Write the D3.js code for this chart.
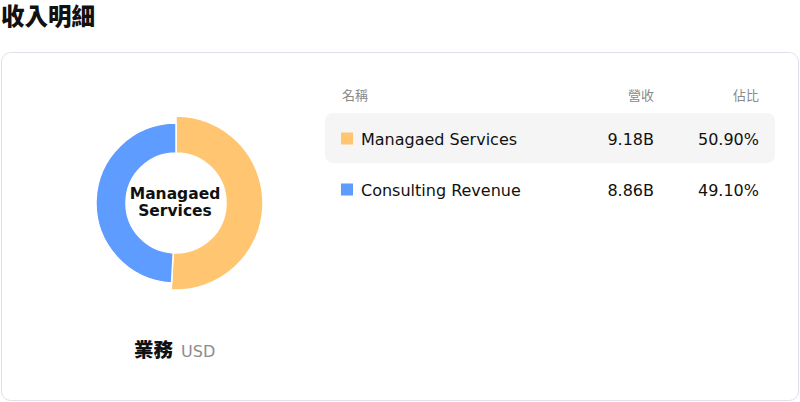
<!DOCTYPE html>
<html>
<head>
<meta charset="utf-8">
<script src="https://cdn.jsdelivr.net/npm/d3@7"></script>
<style>
  body { margin: 0; background: #fff; font-family: "DejaVu Sans", "Noto Sans CJK TC", sans-serif; }
  svg text { font-family: "DejaVu Sans", "Noto Sans CJK TC", sans-serif; }
</style>
</head>
<body>
<svg id="chart" width="800" height="402"></svg>
<script>
// data
const categories = ['Managaed Services', 'Consulting Revenue'];
const revenue = [9.18, 8.86];          // billions USD
const shareLabels = ['50.90%', '49.10%'];
const revenueLabels = ['9.18B', '8.86B'];
const palette = ['#ffc570', '#5f9cff'];

const width = 800, height = 402;
const svg = d3.select('#chart');

// title
svg.append('text')
    .attr('x', 1).attr('y', 25)
    .attr('font-size', 23.5).attr('font-weight', 900)
    .attr('font-family', '"Noto Sans CJK TC", sans-serif')
    .attr('fill', '#111')
    .text('收入明細');

// card
svg.append('rect')
    .attr('x', 1.5).attr('y', 52.5)
    .attr('width', 797).attr('height', 348)
    .attr('rx', 9)
    .attr('fill', '#fff')
    .attr('stroke', '#e1e0ea');

// donut
const cx = 176, cy = 203;
const inner = 50, outer = 80, hoverOuter = 87;
const data = categories.map((c, i) => ({ label: c, value: revenue[i] }));

const pie = d3.pie()
    .value(d => d.value)
    .sort(null);

const arc = d3.arc().innerRadius(inner);

const donut = svg.append('g')
    .attr('transform', `translate(${cx},${cy})`);

donut.selectAll('path')
    .data(pie(data))
    .enter()
    .append('path')
    .attr('d', (d, i) => arc.outerRadius(i === 0 ? hoverOuter : outer)(d))
    .attr('fill', (d, i) => palette[i])
    .attr('stroke', '#fff')
    .attr('stroke-width', 1.5);

// centre label (active slice), one text per line
categories[0].split(' ').forEach((w, i) => {
    donut.append('text')
        .attr('x', -1)
        .attr('y', i === 0 ? -4.5 : 12.5)
        .attr('text-anchor', 'middle')
        .attr('font-size', 15.5).attr('font-weight', 'bold')
        .attr('fill', '#111')
        .text(w);
});

// caption under donut
const caption = svg.append('text')
    .attr('x', 134).attr('y', 357);
caption.append('tspan')
    .attr('font-size', 19.5).attr('font-weight', 900)
    .attr('font-family', '"Noto Sans CJK TC", sans-serif')
    .attr('fill', '#111')
    .text('業務');
caption.append('tspan')
    .attr('dx', 8)
    .attr('font-size', 16)
    .attr('fill', '#8c8c8c')
    .text('USD');

// table
const colName = 342, colRev = 654, colShare = 759;
const header = svg.append('g').attr('font-size', 13).attr('fill', '#8a8a8a')
    .attr('font-family', '"Noto Sans CJK TC", sans-serif');
header.append('text').attr('x', colName).attr('y', 100).text('名稱');
header.append('text').attr('x', colRev).attr('y', 100).attr('text-anchor', 'end').text('營收');
header.append('text').attr('x', colShare).attr('y', 100).attr('text-anchor', 'end').text('佔比');

const rowY = d3.scaleBand()
    .domain(categories)
    .range([113, 215])
    .paddingInner(0);

const rows = svg.selectAll('g.row')
    .data(categories)
    .enter()
    .append('g')
    .attr('class', 'row')
    .attr('transform', d => `translate(0,${rowY(d)})`);

rows.filter((d, i) => i === 0)
    .append('rect')
    .attr('x', 325).attr('y', 0)
    .attr('width', 450).attr('height', 50)
    .attr('rx', 8)
    .attr('fill', '#f5f5f5');

const mid = rowY.bandwidth() / 2 + 0.5;

rows.append('rect')
    .attr('x', 341).attr('y', mid - 6.5)
    .attr('width', 12).attr('height', 12)
    .attr('fill', (d, i) => palette[i]);

rows.append('text')
    .attr('x', 361).attr('y', mid)
    .attr('dy', '0.35em')
    .attr('font-size', 16).attr('fill', '#111')
    .text(d => d);

rows.append('text')
    .attr('x', colRev).attr('y', mid)
    .attr('dy', '0.35em')
    .attr('text-anchor', 'end')
    .attr('font-size', 16).attr('fill', '#111')
    .text((d, i) => revenueLabels[i]);

rows.append('text')
    .attr('x', colShare).attr('y', mid)
    .attr('dy', '0.35em')
    .attr('text-anchor', 'end')
    .attr('font-size', 16).attr('fill', '#111')
    .text((d, i) => shareLabels[i]);
</script>
</body>
</html>
